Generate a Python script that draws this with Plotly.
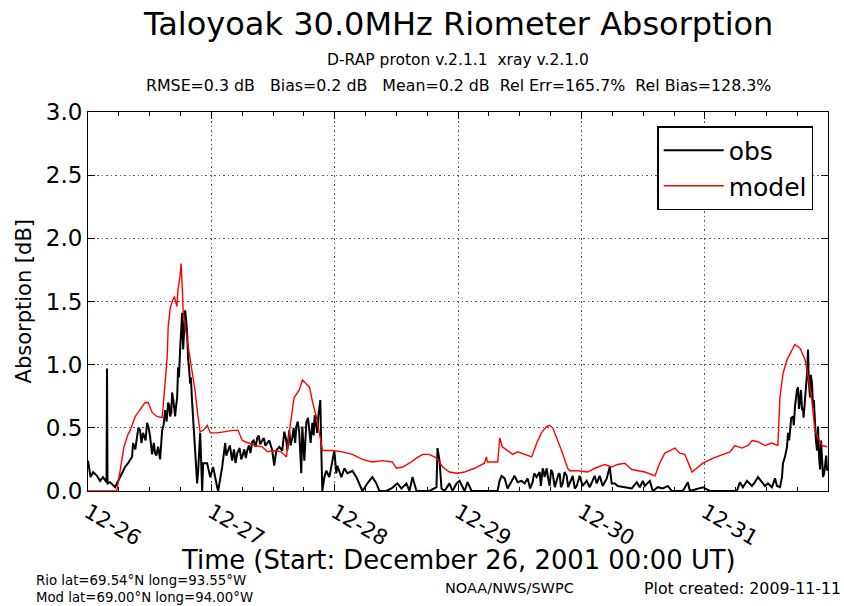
import plotly.graph_objects as go
import pandas as pd

start = pd.Timestamp("2001-12-26 00:00")

# Model (red) absorption: hours since start, dB
model_hours = [0.0, 5.6, 6.2, 7.0, 7.8, 8.2, 9.2, 10.1, 11.1, 11.7, 12.5, 13.4, 14.4, 14.6, 15.0, 15.4,
               15.6, 16.0, 16.4, 16.8, 17.3, 17.5, 17.9, 18.1, 18.3, 18.5, 18.9, 19.5, 20.3, 20.8, 21.4,
               21.8, 22.4, 23.2, 23.8, 25.1, 26.7, 28.1, 29.2, 30.0, 31.2, 32.5, 33.9, 34.9, 36.0, 37.6,
               38.6, 39.2, 40.1, 41.1, 41.7, 42.5, 43.1, 43.6, 44.4, 45.0, 45.6, 47.5, 49.5, 51.4, 53.4,
               55.3, 57.3, 59.2, 60.0, 61.2, 62.5, 63.9, 65.1, 66.4, 67.8, 69.0, 70.3, 71.9, 73.2, 75.2,
               77.1, 77.5, 77.7, 79.7, 80.1, 80.6, 81.6, 82.6, 83.6, 84.3, 85.3, 86.3, 87.3, 88.2, 89.2,
               89.8, 90.4, 91.4, 92.3, 93.3, 93.7, 95.3, 97.2, 98.6, 100.5, 101.9, 103.0, 104.4, 105.8,
               108.3, 110.3, 111.2, 112.2, 113.2, 114.2, 115.1, 116.1, 117.5, 118.4, 119.6, 121.6, 123.5,
               124.9, 125.8, 127.2, 128.4, 129.2, 130.3, 131.7, 133.0, 134.2, 134.6, 135.2, 136.0, 136.9,
               137.5, 138.5, 139.5, 140.1, 140.8, 141.4, 142.0, 142.8, 143.8]
model_vals = [0.0, 0.0, 0.15, 0.35, 0.45, 0.48, 0.59, 0.64, 0.70, 0.70, 0.62, 0.59, 0.58, 0.66, 0.85, 1.06,
              1.30, 1.45, 1.50, 1.54, 1.46, 1.59, 1.70, 1.80, 1.65, 1.43, 1.30, 1.14, 0.96, 0.80, 0.59,
              0.47, 0.48, 0.52, 0.46, 0.46, 0.47, 0.48, 0.48, 0.40, 0.38, 0.36, 0.35, 0.31, 0.32, 0.31,
              0.27, 0.48, 0.74, 0.80, 0.88, 0.85, 0.82, 0.72, 0.59, 0.46, 0.32, 0.32, 0.31, 0.29, 0.25,
              0.23, 0.24, 0.23, 0.18, 0.19, 0.22, 0.26, 0.29, 0.29, 0.26, 0.19, 0.15, 0.14, 0.15, 0.18,
              0.22, 0.27, 0.23, 0.23, 0.42, 0.35, 0.32, 0.29, 0.31, 0.30, 0.29, 0.27, 0.38, 0.46, 0.51,
              0.52, 0.50, 0.40, 0.30, 0.18, 0.16, 0.16, 0.15, 0.18, 0.21, 0.19, 0.21, 0.22, 0.17,
              0.15, 0.12, 0.22, 0.30, 0.32, 0.34, 0.30, 0.29, 0.15, 0.18, 0.22, 0.26, 0.29,
              0.31, 0.36, 0.34, 0.36, 0.40, 0.39, 0.36, 0.38, 0.36, 0.74, 0.93, 1.04, 1.12,
              1.16, 1.13, 1.04, 0.90, 0.72, 0.48, 0.42, 0.36, 0.35]

# Observed (black) absorption: hours since start, dB
obs_hours = [0.0, 0.5, 1.0, 1.75, 2.34, 2.92, 3.6, 3.7, 3.8, 4.29, 5.26, 5.84, 6.62, 7.21, 7.79, 8.57,
             8.77, 9.55, 10.13, 10.71, 11.49, 12.08, 12.47, 13.05, 13.64, 14.03, 14.42, 15.0, 15.58,
             15.97, 16.36, 16.95, 17.34, 17.53, 17.92, 18.31, 18.51, 18.9, 19.28, 19.48, 19.87, 20.26,
             20.45, 20.84, 21.23, 21.43, 21.82, 22.21, 22.4, 23.18, 23.77, 24.35, 25.13, 25.32, 26.1,
             26.69, 27.27, 28.05, 29.03, 30.0, 30.97, 31.95, 32.92, 33.9, 34.87, 35.26, 35.84, 36.23,
             36.62, 37.21, 37.79, 38.18, 38.57, 38.77, 39.15, 39.74, 40.52, 41.1, 41.49, 41.69, 42.08,
             42.47, 43.05, 43.64, 44.42, 44.8, 45.19, 45.39, 45.58, 45.97, 46.36, 46.95, 47.53, 47.92,
             48.31, 48.51, 49.29, 49.87, 50.45, 51.43, 52.21, 52.79, 53.38, 54.35, 55.32, 56.1, 56.69,
             58.05, 59.03, 60.19, 60.97, 61.95, 62.53, 63.12, 63.9, 65.06, 66.43, 67.79, 67.99, 68.38,
             68.77, 69.35, 70.32, 70.91, 71.69, 72.27, 73.25, 73.83, 74.61, 79.67, 80.06, 80.45, 81.04,
             81.62, 82.40, 82.99, 83.57, 84.35, 84.93, 85.52, 86.49, 87.27, 87.86, 88.44, 88.83, 89.22,
             89.80, 90.39, 91.17, 91.75, 92.34, 93.12, 93.70, 94.29, 95.06, 95.65, 96.23, 97.01, 97.60,
             98.57, 98.96, 99.54, 100.13, 100.91, 101.49, 101.88, 102.47, 103.05, 104.41, 105.78,
             106.75, 107.34, 107.92, 108.31, 109.29, 109.87, 110.84, 111.82, 112.79, 113.57, 115.71,
             116.69, 117.08, 119.61, 120.97, 126.23, 126.82, 127.40, 128.18, 129.16, 129.74, 130.32,
             131.10, 131.69, 132.27, 133.05, 133.64, 134.03, 134.61, 135.0, 135.19, 135.58, 135.97,
             136.17, 136.56, 137.14, 137.53, 137.92, 138.12, 138.51, 138.9, 139.09, 139.48, 139.87,
             140.07, 140.2, 140.46, 140.84, 141.04, 141.43, 141.82, 142.01, 142.40, 142.79, 142.99,
             143.38, 143.77]
obs_vals = [0.24, 0.11, 0.15, 0.12, 0.08, 0.11, 0.07, 0.97, 0.06, 0.07, 0.03, 0.08, 0.15, 0.19, 0.22, 0.27,
            0.38, 0.43, 0.48, 0.46, 0.54, 0.43, 0.29, 0.30, 0.35, 0.25, 0.48, 0.64, 0.70,
            0.59, 0.78, 0.59, 0.74, 0.98, 1.12, 1.41, 1.12, 1.43, 1.25, 1.04, 0.85, 0.70,
            0.54, 0.32, 0.06, 0.16, 0.46, 0.0, 0.22, 0.22, 0.11, 0.19, 0.03, 0.0, 0.19,
            0.38, 0.32, 0.24, 0.30, 0.27, 0.32, 0.39, 0.42, 0.40, 0.38, 0.40, 0.32, 0.20,
            0.32, 0.35, 0.32, 0.47, 0.40, 0.32, 0.48, 0.42, 0.51, 0.46, 0.14, 0.51, 0.24,
            0.54, 0.46, 0.54, 0.48, 0.59, 0.72, 0.32, 0.0, 0.11, 0.16, 0.11, 0.22, 0.32,
            0.14, 0.20, 0.11, 0.18, 0.14, 0.16, 0.11, 0.06, 0.0, 0.06, 0.11, 0.06, 0.0,
            0.0, 0.02, 0.06, 0.02, 0.06, 0.0, 0.11, 0.0, 0.0, 0.0, 0.03, 0.34, 0.24,
            0.02, 0.0, 0.06, 0.0, 0.06, 0.08, 0.0, 0.07, 0.0, 0.0, 0.08, 0.12, 0.10,
            0.02, 0.08, 0.12, 0.07, 0.08, 0.06, 0.10, 0.07, 0.11, 0.15, 0.18, 0.11, 0.18,
            0.04, 0.14, 0.08, 0.14, 0.06, 0.12, 0.06, 0.12, 0.04, 0.12, 0.04, 0.08, 0.03,
            0.12, 0.06, 0.12, 0.04, 0.10, 0.19, 0.06, 0.06, 0.04, 0.03, 0.02,
            0.07, 0.03, 0.08, 0.04, 0.08, 0.0, 0.03, 0.02, 0.04, 0.0, 0.0,
            0.07, 0.0, 0.03, 0.0, 0.0, 0.07, 0.03, 0.08, 0.04, 0.07, 0.11,
            0.07, 0.04, 0.06, 0.03, 0.10, 0.04, 0.03, 0.11, 0.22, 0.27, 0.35,
            0.46, 0.51, 0.59, 0.67, 0.80, 0.82, 0.72, 0.64, 0.66, 0.74, 0.93,
            1.12, 0.87, 0.74, 0.85, 0.66, 0.48, 0.32, 0.51, 0.17, 0.24, 0.11,
            0.22, 0.16]

# Additional observed samples read from the noisy stretches of the black trace
obs_extra_hours = [9.2, 9.8, 10.4, 11.2, 11.8, 12.8, 13.3, 14.2, 14.7, 15.3, 15.8, 16.2, 16.6, 17.1,
                   17.7, 18.1, 18.7, 19.1, 19.6, 20.0,
                   26.4, 26.9, 27.6, 28.4, 28.7, 29.5, 29.8, 30.4, 30.7, 31.3, 31.6, 32.2, 32.6, 33.2,
                   33.5, 34.2, 34.5, 39.4, 40.0, 40.3, 40.8, 42.3, 42.8, 43.3, 43.9, 44.1, 44.6,
                   86.0, 86.8, 88.1, 88.6, 89.5, 90.1, 90.8, 91.5, 92.0, 92.7, 93.4, 94.0, 94.7,
                   136.4, 136.8, 137.3, 137.7, 138.3, 138.7, 139.2, 139.7, 140.6, 141.2, 141.6,
                   142.2, 142.6, 143.2, 143.6]
obs_extra_vals = [0.33, 0.50, 0.38, 0.40, 0.50, 0.38, 0.28, 0.40, 0.52, 0.55, 0.68, 0.62, 0.72, 0.66,
                  0.90, 1.25, 1.30, 1.35, 1.00, 0.90,
                  0.30, 0.28, 0.36, 0.33, 0.22, 0.34, 0.25, 0.33, 0.26, 0.36, 0.30, 0.40, 0.35, 0.44,
                  0.37, 0.42, 0.36, 0.36, 0.50, 0.38, 0.55, 0.40, 0.58, 0.38, 0.44, 0.60, 0.46,
                  0.02, 0.14, 0.04, 0.16, 0.10, 0.17, 0.03, 0.13, 0.03, 0.15, 0.03, 0.10, 0.02,
                  0.40, 0.58, 0.52, 0.75, 0.65, 0.80, 0.58, 0.82, 0.92, 0.72, 0.40,
                  0.28, 0.40, 0.14, 0.28]

day_ticks = ["2001-12-26", "2001-12-27", "2001-12-28", "2001-12-29", "2001-12-30", "2001-12-31"]
day_labels = ["12-26", "12-27", "12-28", "12-29", "12-30", "12-31"]
y_ticks = [0.0, 0.5, 1.0, 1.5, 2.0, 2.5, 3.0]

title_text = "Taloyoak 30.0MHz Riometer Absorption"
sub1 = "D-RAP proton v.2.1.1  xray v.2.1.0"
sub2 = "RMSE=0.3 dB   Bias=0.2 dB   Mean=0.2 dB  Rel Err=165.7%  Rel Bias=128.3%"

obs_pairs = sorted(zip(obs_hours + obs_extra_hours, obs_vals + obs_extra_vals))
obs_t = [start + pd.Timedelta(hours=h) for h, _ in obs_pairs]
obs_y = [v for _, v in obs_pairs]
model_t = [start + pd.Timedelta(hours=h) for h in model_hours]

FONT = "DejaVu Sans"
fig = go.Figure()
fig.add_trace(go.Scatter(x=obs_t, y=obs_y, mode="lines", name="obs",
                         line=dict(color="black", width=2)))
fig.add_trace(go.Scatter(x=model_t, y=model_vals, mode="lines", name="model",
                         line=dict(color="red", width=1.4)))

axis_common = dict(showline=True, linecolor="black", linewidth=1, mirror="allticks",
                   ticks="inside", tickcolor="black", ticklen=7, zeroline=False,
                   showgrid=True, gridcolor="#555555", griddash="1.5px,3px", gridwidth=1)

fig.update_xaxes(**axis_common,
                 range=[start, start + pd.Timedelta(hours=143.95)],
                 tickvals=day_ticks, ticktext=day_labels, tickangle=30,
                 tickfont=dict(family=FONT, size=21, color="black"),
                 minor=dict(dtick=6 * 3600 * 1000, ticks="inside", ticklen=4, tickcolor="black",
                            showgrid=False))
fig.update_yaxes(**axis_common, range=[0, 3.0], tickvals=y_ticks,
                 ticktext=[f"{v:.1f}" for v in y_ticks],
                 tickfont=dict(family=FONT, size=23, color="black"))

ann = []
def add(text, x, y, size, xanchor="center", yanchor="middle", angle=0):
    ann.append(dict(text=text, x=x, y=y, xref="paper", yref="paper", showarrow=False,
                    xanchor=xanchor, yanchor=yanchor, textangle=angle,
                    font=dict(family=FONT, size=size, color="black")))

add(title_text, 0.5, 1.232, 32)
add(sub1, 0.5, 1.137, 15.5)
add(sub2, 0.5, 1.071, 15.8)
add("Absorption [dB]", -0.0865, 0.5, 21, angle=-90)
add("Time (Start: December 26, 2001 00:00 UT)", 0.5, -0.182, 25.8)
add("Rio lat=69.54°N long=93.55°W", -0.073, -0.235, 13.3, xanchor="left")
add("Mod lat=69.00°N long=94.00°W", -0.073, -0.282, 13.3, xanchor="left")
add("NOAA/NWS/SWPC", 0.570, -0.256, 14.5)
add("Plot created: 2009-11-11", 0.749, -0.256, 15.8, xanchor="left")

fig.update_layout(
    width=844, height=606,
    margin=dict(l=88, r=16, t=112, b=115),
    paper_bgcolor="white", plot_bgcolor="white",
    font=dict(family=FONT, color="black"),
    showlegend=True,
    legend=dict(x=0.980, y=0.963, xanchor="right", yanchor="top",
                bordercolor="black", borderwidth=1.5, bgcolor="white",
                font=dict(family=FONT, size=25, color="black"),
                itemwidth=60, tracegroupgap=0),
    annotations=ann,
)

fig.write_html("out.html", config={"displayModeBar": False},
               post_script="document.body.style.margin='0px';")
